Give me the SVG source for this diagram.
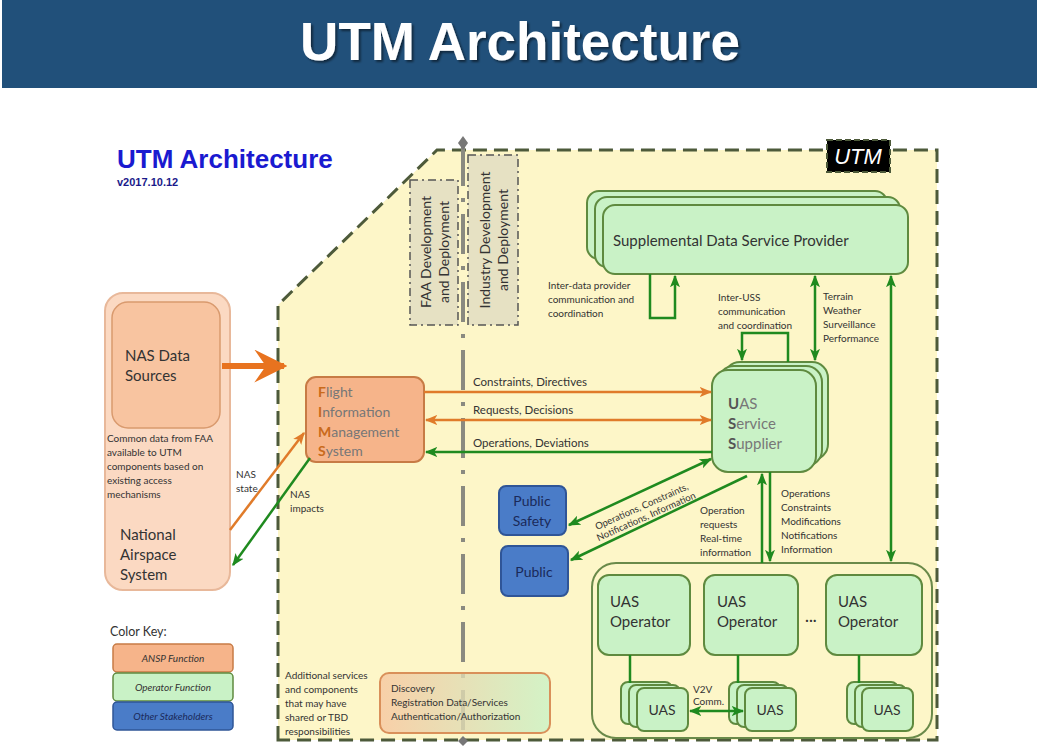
<svg xmlns="http://www.w3.org/2000/svg" width="1041" height="746" viewBox="0 0 1041 746">
<defs>
<style>
.t{font-family:Lato,"Liberation Sans",sans-serif;fill:#333}
.s10{font-size:10px}
.s14{font-size:14px}
.s15{font-size:15px}
.gbox{fill:#c9f2c6;stroke:#5f8a3f;stroke-width:2}
.obox{fill:#f6b48a;stroke:#c77b45;stroke-width:2}
.bbox{fill:#4a7cc8;stroke:#2f5597;stroke-width:2}
.og{stroke:#e07b2a;stroke-width:2.5;fill:none}
.gr{stroke:#1f8a1f;stroke-width:2.5;fill:none}
.dd{fill:#e6e1c3;stroke:#555;stroke-width:1.5;stroke-dasharray:8 4 2 4}
.gl{fill:#777}
.bl{font-weight:bold;fill:#555}
</style>
<marker id="ao" viewBox="0 0 10 10" refX="9" refY="5" markerWidth="5" markerHeight="5" orient="auto-start-reverse"><path d="M0,1 L10,5 L0,9 L2.5,5z" fill="#e07b2a"/></marker>
<marker id="ag" viewBox="0 0 10 10" refX="9" refY="5" markerWidth="5" markerHeight="5" orient="auto-start-reverse"><path d="M0,1 L10,5 L0,9 L2.5,5z" fill="#1f8a1f"/></marker>
<marker id="abig" viewBox="0 0 10 10" refX="9" refY="5" markerWidth="5.5" markerHeight="5.5" orient="auto"><path d="M0,0 L10,5 L0,10 L3.5,5z" fill="#e8731f"/></marker>
<linearGradient id="disc" x1="0" y1="0" x2="1" y2="0"><stop offset="0" stop-color="#f7c6a0"/><stop offset="1" stop-color="#c9f2c6"/></linearGradient>
<filter id="sh" x="-5%" y="-20%" width="110%" height="140%"><feDropShadow dx="2" dy="2" stdDeviation="1.2" flood-color="#000" flood-opacity="0.5"/></filter>
</defs>
<rect width="1041" height="746" fill="#fff"/>
<g id="title">
<rect x="2" y="0" width="1035" height="88" fill="#21507a"/>
<text x="520" y="60" text-anchor="middle" font-family="Liberation Sans,Arial,sans-serif" font-weight="bold" font-size="53" fill="#fff" filter="url(#sh)">UTM Architecture</text>
</g>
<g id="heading">
<text x="117" y="168" font-family="Liberation Sans,Arial,sans-serif" font-weight="bold" font-size="26" fill="#1a1ad0">UTM Architecture</text>
<text x="117" y="186" font-family="Liberation Sans,Arial,sans-serif" font-weight="bold" font-size="11" fill="#1a1a8a">v2017.10.12</text>
</g>
<g id="utm-region">
<path d="M278,740 L278,305 L437,150 L937,150 L937,740 Z" fill="#fdf6c8" stroke="#4d5a3a" stroke-width="3" stroke-dasharray="14 7"/>
<rect x="827" y="140" width="63" height="32" fill="#000" stroke="#4d5a3a" stroke-width="2" stroke-dasharray="6 3"/>
<text x="858" y="164" text-anchor="middle" font-family="Liberation Sans,Arial,sans-serif" font-style="italic" font-size="22" fill="#fff">UTM</text>
</g>
<g id="divider">
<line x1="463" y1="146" x2="463" y2="740" stroke="#8a8a80" stroke-width="4" stroke-dasharray="40 12 4 12"/>
<path d="M463,136 L468,143 L463,150 L458,143z" fill="#777"/>
<path d="M463,736 L468,741 L463,746 L458,741z" fill="#777"/>
</g>
<g id="faa-dev">
<rect class="dd" x="410" y="180" width="48" height="145"/>
<g transform="translate(434,252) rotate(-90)"><text class="t s14" x="0" y="-3" text-anchor="middle">FAA Development</text><text class="t s14" x="0" y="15" text-anchor="middle">and Deployment</text></g>
</g>
<g id="industry-dev">
<rect class="dd" x="468" y="155" width="50" height="170"/>
<g transform="translate(493,240) rotate(-90)"><text class="t s14" x="0" y="-3" text-anchor="middle">Industry Development</text><text class="t s14" x="0" y="15" text-anchor="middle">and Deployment</text></g>
</g>
<g id="nas">
<rect x="105" y="293" width="125" height="297" rx="18" fill="#fbd9c2" stroke="#e8b89a" stroke-width="2"/>
<rect x="112" y="302" width="108" height="126" rx="16" fill="#f8c4a0" stroke="#d99a6e" stroke-width="1.5"/>
<text class="t s15" x="125" y="361">NAS Data</text>
<text class="t s15" x="125" y="381">Sources</text>
<text class="t s10" x="107" y="442">Common data from FAA</text>
<text class="t s10" x="107" y="456">available to UTM</text>
<text class="t s10" x="107" y="470">components based on</text>
<text class="t s10" x="107" y="484">existing access</text>
<text class="t s10" x="107" y="498">mechanisms</text>
<text class="t s15" x="120" y="540">National</text>
<text class="t s15" x="120" y="560">Airspace</text>
<text class="t s15" x="120" y="580">System</text>
</g>
<g id="fims">
<rect class="obox" x="306" y="377" width="118" height="85" rx="10"/>
<text class="t s14" x="318" y="397"><tspan font-weight="bold" fill="#c96a1b">F</tspan><tspan class="gl">light</tspan></text>
<text class="t s14" x="318" y="417"><tspan font-weight="bold" fill="#c96a1b">I</tspan><tspan class="gl">nformation</tspan></text>
<text class="t s14" x="318" y="437"><tspan font-weight="bold" fill="#c96a1b">M</tspan><tspan class="gl">anagement</tspan></text>
<text class="t s14" x="318" y="456"><tspan font-weight="bold" fill="#c96a1b">S</tspan><tspan class="gl">ystem</tspan></text>
</g>
<g id="sdsp">
<rect class="gbox" x="587" y="191" width="300" height="68" rx="12"/>
<rect class="gbox" x="595" y="197" width="305" height="70" rx="12"/>
<rect class="gbox" x="603" y="205" width="305" height="69" rx="12"/>
<text class="t s15" x="613" y="246">Supplemental Data Service Provider</text>
</g>
<g id="uss">
<rect class="gbox" x="724" y="362" width="104" height="98" rx="16"/>
<rect class="gbox" x="718" y="366" width="104" height="100" rx="16"/>
<rect class="gbox" x="712" y="370" width="104" height="102" rx="16"/>
<text class="t s15" x="728" y="409"><tspan class="bl">U</tspan><tspan class="gl">AS</tspan></text>
<text class="t s15" x="728" y="429"><tspan class="bl">S</tspan><tspan class="gl">ervice</tspan></text>
<text class="t s15" x="728" y="449"><tspan class="bl">S</tspan><tspan class="gl">upplier</tspan></text>
</g>
<g id="public-safety">
<rect class="bbox" x="499" y="486" width="67" height="49" rx="7"/>
<text class="t s14" x="532" y="506" text-anchor="middle" style="fill:#1a2a5a">Public</text>
<text class="t s14" x="532" y="526" text-anchor="middle" style="fill:#1a2a5a">Safety</text>
</g>
<g id="public">
<rect class="bbox" x="501" y="546" width="67" height="50" rx="7"/>
<text class="t s14" x="534" y="577" text-anchor="middle" style="fill:#1a2a5a">Public</text>
</g>
<g id="operators">
<rect x="592" y="563" width="340" height="175" rx="24" fill="none" stroke="#6a8a4a" stroke-width="2"/>
<g id="op1"><rect class="gbox" x="598" y="575" width="92" height="80" rx="11"/><text class="t s15" x="610" y="607">UAS</text><text class="t s15" x="610" y="627">Operator</text></g>
<g id="op2"><rect class="gbox" x="704" y="575" width="94" height="80" rx="11"/><text class="t s15" x="717" y="607">UAS</text><text class="t s15" x="717" y="627">Operator</text></g>
<g id="op3"><rect class="gbox" x="826" y="575" width="96" height="80" rx="11"/><text class="t s15" x="838" y="607">UAS</text><text class="t s15" x="838" y="627">Operator</text></g>
<text class="t s15" x="805" y="625">···</text>
<g id="uas1"><rect class="gbox" x="621" y="682" width="51" height="42" rx="7"/><rect class="gbox" x="629" y="685" width="51" height="42" rx="7"/><rect class="gbox" x="637" y="688" width="51" height="43" rx="7"/><text class="t s14" x="662" y="715" text-anchor="middle">UAS</text></g>
<g id="uas2"><rect class="gbox" x="729" y="682" width="51" height="42" rx="7"/><rect class="gbox" x="737" y="685" width="51" height="42" rx="7"/><rect class="gbox" x="745" y="688" width="51" height="43" rx="7"/><text class="t s14" x="770" y="715" text-anchor="middle">UAS</text></g>
<g id="uas3"><rect class="gbox" x="847" y="682" width="51" height="42" rx="7"/><rect class="gbox" x="855" y="685" width="51" height="42" rx="7"/><rect class="gbox" x="862" y="688" width="51" height="43" rx="7"/><text class="t s14" x="887" y="715" text-anchor="middle">UAS</text></g>
</g>
<g id="discovery">
<rect x="380" y="673" width="170" height="60" rx="9" fill="url(#disc)" fill-opacity="0.8" stroke="#d9905a" stroke-width="2"/>
<text class="t s10" x="391" y="692">Discovery</text>
<text class="t s10" x="391" y="706">Registration Data/Services</text>
<text class="t s10" x="391" y="720">Authentication/Authorization</text>
</g>
<g id="additional">
<text class="t s10" x="285" y="679">Additional services</text>
<text class="t s10" x="285" y="693">and components</text>
<text class="t s10" x="285" y="707">that may have</text>
<text class="t s10" x="285" y="721">shared or TBD</text>
<text class="t s10" x="285" y="735">responsibilities</text>
</g>
<g id="color-key">
<text class="t" x="110" y="636" font-size="12.5">Color Key:</text>
<rect x="113" y="644" width="120" height="28" rx="4" fill="#f6b48a" stroke="#c77b45" stroke-width="1.5"/>
<text class="t s10" x="173" y="662" text-anchor="middle" font-style="italic">ANSP Function</text>
<rect x="113" y="673" width="120" height="28" rx="4" fill="#c9f2c6" stroke="#5f8a3f" stroke-width="1.5"/>
<text class="t s10" x="173" y="691" text-anchor="middle" font-style="italic">Operator Function</text>
<rect x="113" y="702" width="120" height="28" rx="4" fill="#4a7cc8" stroke="#2f5597" stroke-width="1.5"/>
<text class="t s10" x="173" y="720" text-anchor="middle" font-style="italic" style="fill:#1a2a5a">Other Stakeholders</text>
</g>
<g id="connectors">
<line x1="222" y1="366" x2="284" y2="366" stroke="#e8731f" stroke-width="6" marker-end="url(#abig)"/>
<line class="og" x1="230" y1="530" x2="304" y2="433" marker-end="url(#ao)"/>
<line class="gr" x1="310" y1="458" x2="233" y2="565" marker-end="url(#ag)"/>
<line class="og" x1="424" y1="392" x2="711" y2="392" marker-end="url(#ao)"/>
<line class="og" x1="426" y1="420" x2="711" y2="420" marker-start="url(#ao)" marker-end="url(#ao)"/>
<line class="gr" x1="712" y1="452" x2="426" y2="452" marker-end="url(#ag)"/>
<polyline class="gr" points="650,274 650,318 675,318 675,276" marker-end="url(#ag)"/>
<polyline class="gr" points="788,362 788,333 742,333 742,360" marker-end="url(#ag)"/>
<line class="gr" x1="815" y1="276" x2="815" y2="360" marker-start="url(#ag)" marker-end="url(#ag)"/>
<line class="gr" x1="891" y1="276" x2="891" y2="561" marker-start="url(#ag)" marker-end="url(#ag)"/>
<line class="gr" x1="762" y1="563" x2="762" y2="474" marker-end="url(#ag)"/>
<line class="gr" x1="770" y1="472" x2="770" y2="561" marker-end="url(#ag)"/>
<line class="gr" x1="569" y1="525" x2="711" y2="459" marker-start="url(#ag)" marker-end="url(#ag)"/>
<line class="gr" x1="747" y1="476" x2="571" y2="560" marker-end="url(#ag)"/>
<line x1="630" y1="655" x2="630" y2="683" stroke="#1f8a1f" stroke-width="2.5"/>
<line x1="738" y1="655" x2="738" y2="683" stroke="#1f8a1f" stroke-width="2.5"/>
<line x1="859" y1="655" x2="859" y2="683" stroke="#1f8a1f" stroke-width="2.5"/>
<line class="gr" x1="690" y1="711" x2="743" y2="711" marker-start="url(#ag)" marker-end="url(#ag)"/>
</g>
<g id="labels">
<text class="t s10" x="236" y="478">NAS</text>
<text class="t s10" x="236" y="492">state</text>
<text class="t s10" x="290" y="498">NAS</text>
<text class="t s10" x="290" y="512">impacts</text>
<text class="t" font-size="11.5" x="473" y="386">Constraints, Directives</text>
<text class="t" font-size="11.5" x="473" y="414">Requests, Decisions</text>
<text class="t" font-size="11.5" x="473" y="447">Operations, Deviations</text>
<text class="t s10" x="548" y="289">Inter-data provider</text>
<text class="t s10" x="548" y="303">communication and</text>
<text class="t s10" x="548" y="317">coordination</text>
<text class="t s10" x="718" y="301">Inter-USS</text>
<text class="t s10" x="718" y="315">communication</text>
<text class="t s10" x="718" y="329">and coordination</text>
<text class="t s10" x="823" y="300">Terrain</text>
<text class="t s10" x="823" y="314">Weather</text>
<text class="t s10" x="823" y="328">Surveillance</text>
<text class="t s10" x="823" y="342">Performance</text>
<text class="t s10" x="700" y="514">Operation</text>
<text class="t s10" x="700" y="528">requests</text>
<text class="t s10" x="700" y="542">Real-time</text>
<text class="t s10" x="700" y="556">information</text>
<text class="t s10" x="781" y="497">Operations</text>
<text class="t s10" x="781" y="511">Constraints</text>
<text class="t s10" x="781" y="525">Modifications</text>
<text class="t s10" x="781" y="539">Notifications</text>
<text class="t s10" x="781" y="553">Information</text>
<g transform="translate(645,514) rotate(-24)"><text class="t" font-size="9.5" x="0" y="-5" text-anchor="middle">Operations, Constraints,</text><text class="t" font-size="9.5" x="0" y="6" text-anchor="middle">Notifications, Information</text></g>
<text class="t s10" x="693" y="693">V2V</text>
<text class="t s10" x="693" y="705">Comm.</text>
</g>
</svg>
